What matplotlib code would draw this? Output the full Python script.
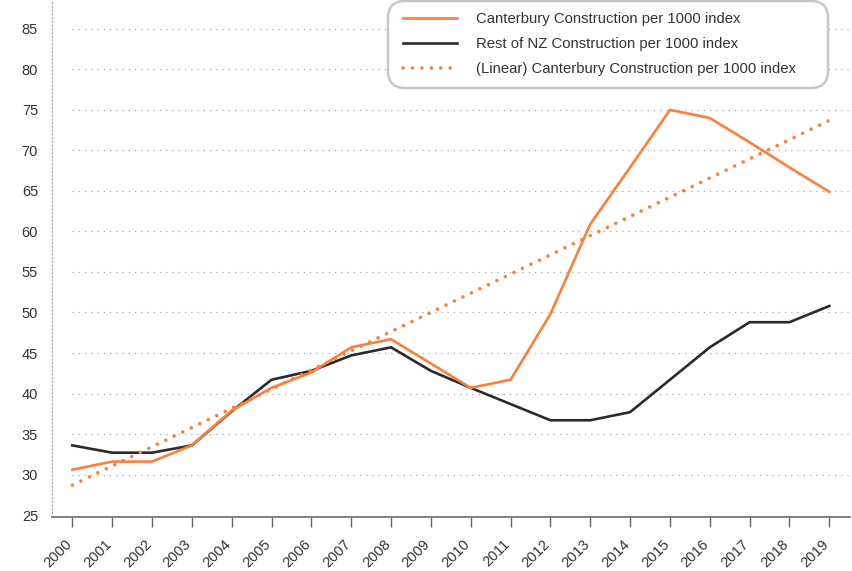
import numpy as np
import matplotlib
matplotlib.use('Agg')
import matplotlib.pyplot as plt
from matplotlib.patches import FancyBboxPatch

plt.rcParams['font.family'] = ['Liberation Sans', 'DejaVu Sans']

years = ['2000', '2001', '2002', '2003', '2004', '2005', '2006', '2007', '2008', '2009',
         '2010', '2011', '2012', '2013', '2014', '2015', '2016', '2017', '2018', '2019']
canterbury = [30.6, 31.6, 31.6, 33.6, 37.9, 40.7, 42.6, 45.7, 46.7, 43.7,
              40.7, 41.7, 49.8, 60.9, 67.9, 75.0, 74.0, 71.0, 67.9, 64.9]
rest_nz = [33.6, 32.7, 32.7, 33.6, 37.8, 41.7, 42.8, 44.7, 45.7, 42.8,
           40.7, 38.7, 36.7, 36.7, 37.7, 41.7, 45.7, 48.8, 48.8, 50.8]
# linear trend line ends (2000 and 2019)
trend_ends = [28.7, 73.7]
yticks = [25, 30, 35, 40, 45, 50, 55, 60, 65, 70, 75, 80, 85]

orange = '#fe7f3a'
dark = '#2a2a2a'

x = np.arange(len(years))

fig = plt.figure(figsize=(8.52, 5.71), dpi=100)
ax = fig.add_axes([52/852, 1-516.7/571, (850-52)/852, 516.7/571])

ax.hlines(yticks[1:], 0, 19.5, colors='#aaaaaa', linestyles=(0, (1, 4)), linewidth=0.9, zorder=0)

l1, = ax.plot(x, canterbury, color=orange, linewidth=1.9, zorder=3)
l2, = ax.plot(x, rest_nz, color=dark, linewidth=1.9, zorder=2)
l3, = ax.plot([x[0], x[-1]], trend_ends, color=orange, linewidth=2.6,
              linestyle=(0, (0.01, 2.6)), dash_capstyle='round', zorder=4)

ax.set_xlim(-0.51, 19.52)
ax.set_ylim(24.8, 88.56)
ax.set_xticks(x)
ax.set_xticklabels(years, rotation=45, ha='right', va='baseline', rotation_mode='anchor',
                   fontsize=10.5, color='#333333')
ax.set_yticks(yticks)
ax.set_yticklabels([str(v) for v in yticks], fontsize=10.5, color='#333333')
ax.tick_params(axis='y', length=0, pad=10)
ax.tick_params(axis='x', length=7.2, width=1, color='#666666', pad=13)

for s in ['top', 'right']:
    ax.spines[s].set_visible(False)
ax.spines['bottom'].set_color('#777777')
ax.spines['bottom'].set_linewidth(1.3)
ax.spines['left'].set_color('#aaaaaa')
ax.spines['left'].set_linestyle((0, (1, 2)))
ax.spines['left'].set_linewidth(0.9)

# legend frame
frame = FancyBboxPatch((388/852, 1 - 88/571), (828-388)/852, 87/571,
                       boxstyle='round,pad=0,rounding_size=0.02',
                       transform=fig.transFigure, facecolor='white',
                       edgecolor='#c8c8c8', linewidth=1.8, zorder=5,
                       mutation_aspect=852/571)
fig.patches.append(frame)

leg = fig.legend([l1, l2, l3],
                 ['Canterbury Construction per 1000 index',
                  'Rest of NZ Construction per 1000 index',
                  '(Linear) Canterbury Construction per 1000 index'],
                 loc='upper left', bbox_to_anchor=(393/852, 1 - 2/571),
                 borderaxespad=0, fontsize=10.7, handlelength=3.6, handletextpad=1.3,
                 labelspacing=0.74, borderpad=0.7, frameon=False)
leg.set_zorder(6)
for t in leg.get_texts():
    t.set_color('#333333')

fig.savefig('out.png', dpi=100)
